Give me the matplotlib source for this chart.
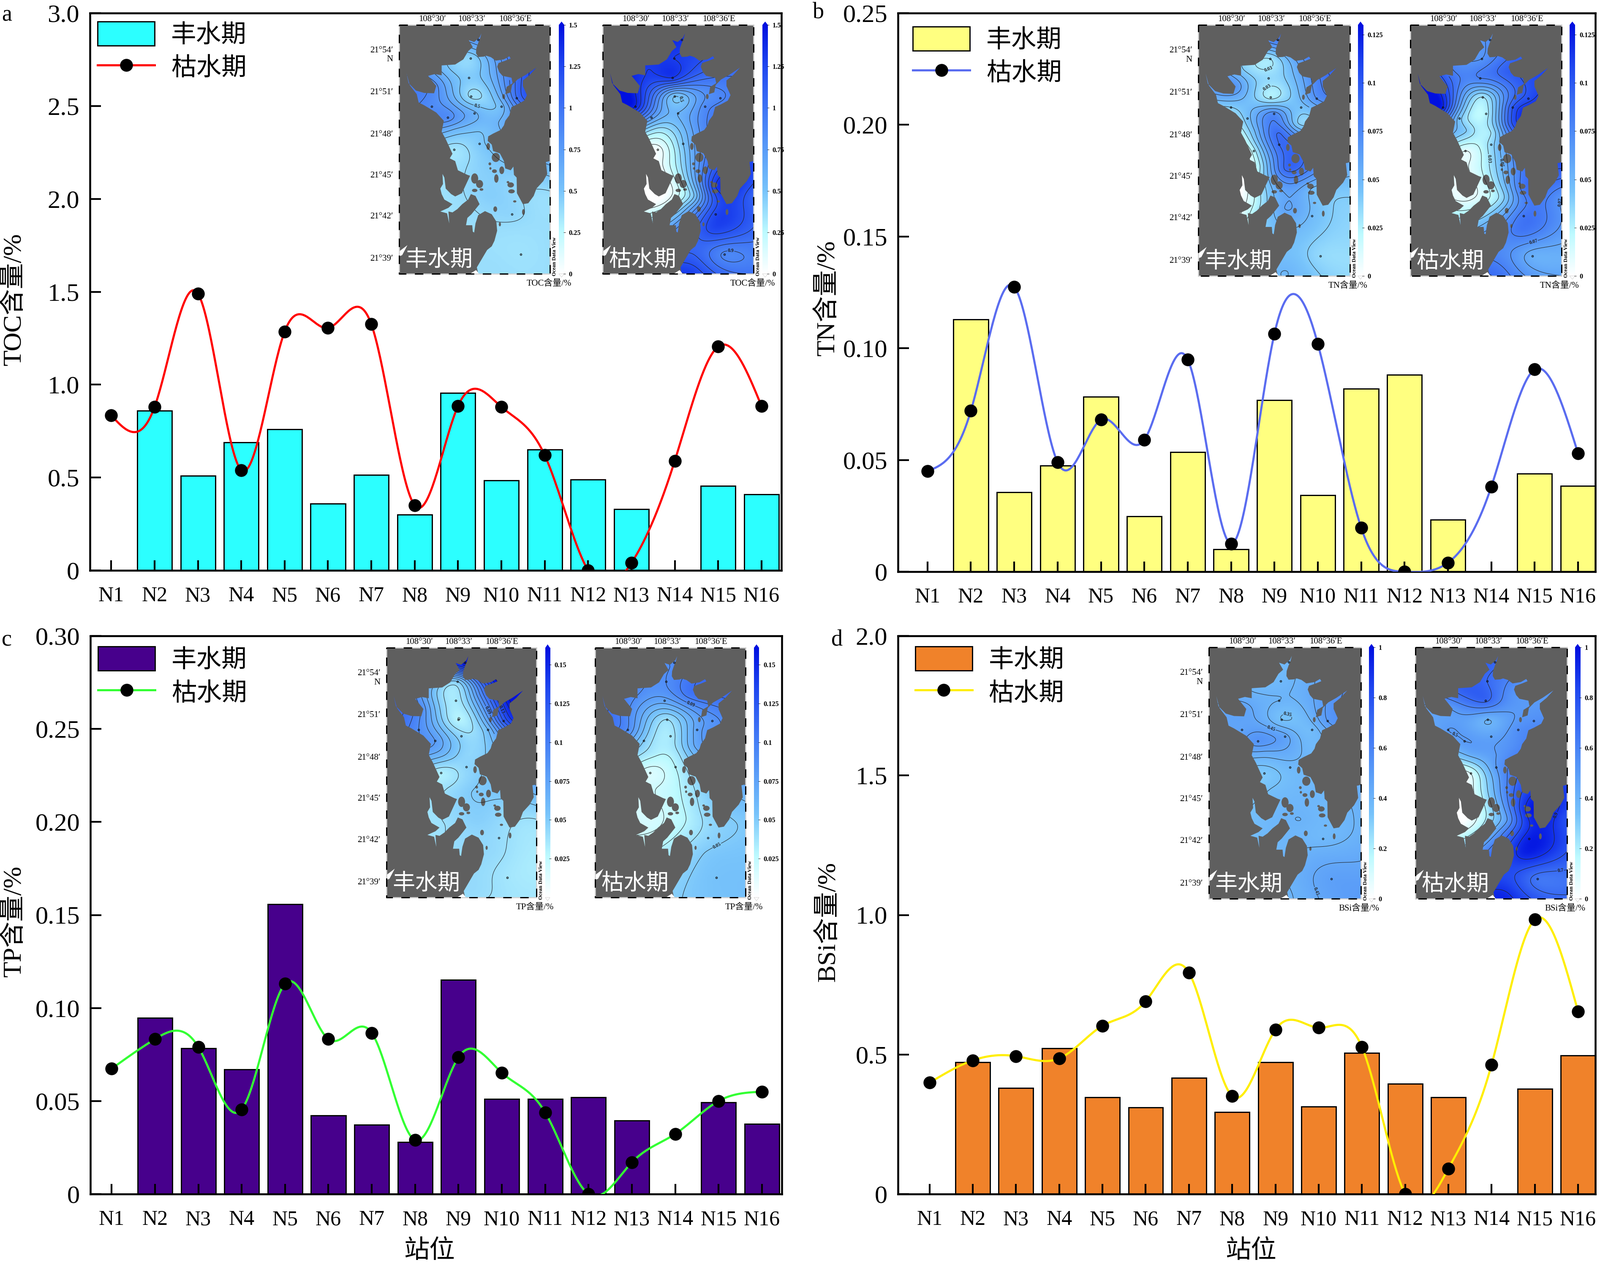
import numpy as np
import matplotlib
matplotlib.use("Agg")
from matplotlib import pyplot as plt
from matplotlib.colors import LinearSegmentedColormap
from matplotlib.lines import Line2D
from matplotlib.patches import Ellipse, Patch, Polygon

plt.rcParams["font.family"] = ["Liberation Serif", "Noto Sans CJK SC"]

FIG_W, FIG_H = 3788, 3001

stations = ["N%d" % i for i in range(1, 17)]

# nan = no sample in that period
toc_wet = [np.nan, 0.86, 0.51, 0.69, 0.76, 0.36, 0.515, 0.30, 0.955, 0.485, 0.65, 0.49, 0.33, np.nan, 0.455, 0.41]
toc_dry = [0.835, 0.88, 1.49, 0.54, 1.285, 1.305, 1.325, 0.35, 0.885, 0.88, 0.62, 0.0, 0.04, 0.59, 1.205, 0.885]
tn_wet = [np.nan, 0.1129, 0.0356, 0.0475, 0.0782, 0.0247, 0.0535, 0.010, 0.0768, 0.0343, 0.0818, 0.0882, 0.0233, np.nan, 0.0439, 0.0384]
tn_dry = [0.045, 0.072, 0.1275, 0.049, 0.068, 0.059, 0.095, 0.0125, 0.1065, 0.102, 0.0197, 0.0, 0.004, 0.038, 0.0905, 0.053]
tp_wet = [np.nan, 0.0948, 0.0784, 0.0669, 0.1557, 0.0422, 0.0373, 0.028, 0.1151, 0.051, 0.051, 0.052, 0.0395, np.nan, 0.0493, 0.0378]
tp_dry = [0.0674, 0.0833, 0.079, 0.0455, 0.113, 0.0833, 0.0866, 0.029, 0.0735, 0.0652, 0.0439, 0.0, 0.017, 0.0323, 0.05, 0.055]
bsi_wet = [np.nan, 0.472, 0.38, 0.523, 0.347, 0.311, 0.417, 0.293, 0.472, 0.314, 0.505, 0.395, 0.347, np.nan, 0.377, 0.497]
bsi_dry = [0.399, 0.479, 0.494, 0.486, 0.603, 0.691, 0.793, 0.351, 0.589, 0.596, 0.527, 0.0, 0.091, 0.464, 0.984, 0.654]

# bay outline, digitised in pixels of the first map
coast_x = [437, 432, 425, 418, 417, 425, 445, 455, 472, 490, 520, 540, 545, 525, 500, 495, 503, 515, 548, 552, 530, 525,
           545, 550, 570, 600, 640, 615, 590, 590, 605, 595, 570, 548, 540, 525, 520, 508, 480, 462, 460, 475, 480, 505,
           520, 525, 545, 555, 557, 567, 568, 590, 610, 630, 640, 665, 680, 675, 690, 690, 425, 420, 440, 458, 475, 485,
           495, 492, 475, 450, 425, 415, 410, 405, 403, 380, 385, 400, 430, 415, 398, 388, 366, 348, 330, 315, 318,
           310, 285, 315, 330, 300, 290, 285, 295, 293, 300, 305, 325, 340, 365, 395, 385, 350, 340, 320, 330, 305, 290, 298,
           270, 225, 205, 198, 172, 160, 168, 195, 225, 262, 270, 240, 265, 290, 290, 340, 370, 388, 405, 390, 410, 430]
coast_y = [113, 140, 165, 195, 222, 242, 240, 235, 243, 262, 255, 238, 250, 262, 275, 295, 325, 345, 355, 385, 405, 445,
           435, 395, 365, 340, 300, 340, 370, 400, 450, 480, 500, 515, 560, 590, 615, 640, 660, 675, 700, 720, 755, 768,
           810, 850, 860, 840, 885, 900, 985, 1045, 1040, 1000, 960, 920, 880, 815, 810, 1425, 1425, 1390, 1340, 1295, 1275, 1245,
           1190, 1140, 1100, 1083, 1105, 1150, 1200, 1195, 1160, 1160, 1120, 1100, 1045, 1000, 990, 1020, 1045, 1072, 1090, 1085, 1150,
           1095, 1085, 1065, 1045, 1020, 990, 960, 935, 880, 900, 960, 990, 1003, 985, 890, 885, 860, 810, 795, 770, 690, 650, 590,
           545, 505, 490, 445, 395, 330, 385, 425, 438, 440, 400, 345, 335, 342, 288, 283, 255, 210, 188, 150, 160, 135]
island_x = [462, 490, 468, 512, 485, 492, 412, 430, 412, 437, 545, 548, 592, 560, 488, 505, 519, 470, 535]
island_y = [730, 790, 825, 860, 865, 905, 905, 935, 970, 965, 940, 975, 1088, 1030, 1072, 1155, 458, 850, 925]
island_w = [13, 30, 10, 18, 18, 16, 26, 26, 20, 14, 24, 24, 10, 12, 14, 8, 10, 8, 10]
island_h = [38, 50, 16, 42, 20, 46, 56, 44, 18, 14, 28, 22, 32, 12, 30, 22, 28, 14, 12]
site_x = [425, 396, 390, 399, 510, 567, 253, 313, 411, 430, 336, 550, 582]
site_y = [148, 250, 355, 457, 513, 465, 512, 573, 548, 715, 748, 1100, 1318]

spot_x = [410, 396, 300, 390, 480, 260, 399, 567, 510, 253, 313, 411, 500, 340, 430,
          336, 430, 360, 450, 350, 470, 550, 550, 450, 690, 582, 690, 460, 690, 540]
spot_y = [170, 250, 310, 355, 320, 400, 457, 465, 513, 512, 573, 548, 600, 640, 650,
          748, 715, 830, 850, 1030, 1000, 950, 1100, 1060, 1000, 1318, 1250, 1400, 1425, 1180]

toc_map_wet = [.7, .42, .55, .47, .65, .85, .38, 1.0, .55, .85, .85, .62, .6, .58, .5,
               .35, .48, .38, .45, .38, .45, .42, .42, .42, .38, .36, .38, .38, .38, .38]
toc_map_dry = [1.35, 1.3, 1.3, 1.3, 1.15, 1.35, .5, .88, .85, 1.4, .75, .6, .85, .35, .55,
               .05, .5, .12, .55, .05, .5, 1.3, 1.25, .6, 1.1, .88, 1.0, 1.25, 1.0, 1.25]
tn_map_wet = [.07, .03, .04, .035, .05, .07, .026, .07, .045, .04, .045, .075, .04, .05, .09,
              .025, .09, .03, .09, .025, .06, .05, .048, .06, .04, .035, .035, .05, .035, .045]
tn_map_dry = [.07, .07, .078, .08, .095, .105, .03, .105, .1, .12, .045, .025, .095, .04, .03,
              .01, .035, .012, .04, .012, .035, .085, .085, .04, .07, .055, .06, .085, .06, .085]
tp_map_wet = [.14, .05, .06, .035, .09, .09, .03, .12, .06, .09, .08, .045, .05, .065, .045,
              .033, .045, .04, .05, .04, .048, .046, .042, .045, .04, .037, .034, .042, .036, .042]
tp_map_dry = [.09, .09, .09, .075, .105, .09, .04, .085, .075, .09, .05, .035, .07, .035, .035,
              .015, .03, .02, .03, .018, .03, .045, .045, .03, .052, .055, .055, .05, .056, .05]
bsi_map_wet = [.38, .38, .4, .4, .42, .47, .35, .5, .37, .47, .53, .47, .38, .43, .42,
               .32, .38, .35, .38, .38, .4, .38, .38, .39, .41, .48, .46, .41, .5, .42]
bsi_map_dry = [.72, .7, .72, .72, .55, .5, .4, .55, .55, .5, .5, .47, .56, .45, .5,
               .1, .5, .15, .52, .12, .5, .95, .95, .55, .8, .66, .72, .92, .72, .95]

odv = LinearSegmentedColormap.from_list("odv", ["#ffffff", "#bdfaff", "#78c4fb", "#5a9cf8", "#3f74f5", "#2048f0", "#0010e0"])

fig = plt.figure(figsize=(FIG_W / 300, FIG_H / 300), dpi=300)


def px_axes(x0, y0, x1, y1):
    return fig.add_axes([x0 / FIG_W, 1 - y1 / FIG_H, (x1 - x0) / FIG_W, (y1 - y0) / FIG_H])


def px_text(x, y, s, **kw):
    kw.setdefault("ha", "center")
    kw.setdefault("va", "center")
    return fig.text(x / FIG_W, 1 - y / FIG_H, s, **kw)


def spline(x, y, n=40):
    # natural cubic spline through the measured points
    x = np.asarray(x, float)
    y = np.asarray(y, float)
    h = np.diff(x)
    A = np.zeros((len(x), len(x)))
    b = np.zeros(len(x))
    A[0, 0] = A[-1, -1] = 1
    for i in range(1, len(x) - 1):
        A[i, i - 1:i + 2] = h[i - 1], 2 * (h[i - 1] + h[i]), h[i]
        b[i] = 6 * ((y[i + 1] - y[i]) / h[i] - (y[i] - y[i - 1]) / h[i - 1])
    m = np.linalg.solve(A, b)
    xs, ys = [], []
    for i in range(len(x) - 1):
        t = np.linspace(0, 1, n)
        xs.append(x[i] + t * h[i])
        ys.append((1 - t) * y[i] + t * y[i + 1] + h[i] ** 2 / 6 * (((1 - t) ** 3 - (1 - t)) * m[i] + (t ** 3 - t) * m[i + 1]))
    return np.concatenate(xs), np.concatenate(ys)


def thin_plate(px, py, z, qx, qy):
    def kernel(r2):
        return 0.5 * r2 * np.log(r2 + 1e-12)
    n = len(px)
    r2 = (px[:, None] - px[None, :]) ** 2 + (py[:, None] - py[None, :]) ** 2
    P = np.column_stack([np.ones(n), px, py])
    M = np.zeros((n + 3, n + 3))
    M[:n, :n] = kernel(r2) + 1e-4 * np.eye(n)
    M[:n, n:] = P
    M[n:, :n] = P.T
    w = np.linalg.solve(M, np.concatenate([z, np.zeros(3)]))
    d2 = (qx[..., None] - px) ** 2 + (qy[..., None] - py) ** 2
    return kernel(d2) @ w[:n] + w[n] + w[n + 1] * qx + w[n + 2] * qy


def norm_u(x):
    return (np.asarray(x, float) - 133) / 557


def norm_v(y):
    return (np.asarray(y, float) - 67) / 1358


def draw_map(box, values, vmax, step, title, left_labels):
    ax = px_axes(*box)
    ax.set_xlim(0, 1)
    ax.set_ylim(1, 0)
    ax.set_xticks([])
    ax.set_yticks([])
    ax.set_facecolor("#5f5f5f")
    for s in ax.spines.values():
        s.set_color("#d0d0d0")
        s.set_linewidth(0.6)

    gu, gv = np.meshgrid(np.linspace(0, 1, 140), np.linspace(0, 1, 280))
    field = thin_plate(norm_u(spot_x), norm_v(spot_y) * 2.4, np.array(values), gu, gv * 2.4)
    field = np.clip(field, 0, vmax)

    water = Polygon(np.column_stack([norm_u(coast_x), norm_v(coast_y)]), fc="none", ec="none")
    ax.add_patch(water)
    im = ax.imshow(field, extent=(0, 1, 1, 0), cmap=odv, vmin=0, vmax=vmax, aspect="auto", interpolation="bilinear")
    im.set_clip_path(water)
    levels = np.arange(step, vmax, step)
    cs = ax.contour(gu, gv, field, levels=levels, colors="#222222", linewidths=0.25)
    cs.set_clip_path(water)
    outline = water.get_path()
    for t in ax.clabel(cs, levels[::2], fmt="%g", fontsize=2.8, inline_spacing=1):
        t.set_fontweight("bold")
        if not outline.contains_point(t.get_position(), water.get_patch_transform()):
            t.set_visible(False)

    for x, y, w, h in zip(island_x, island_y, island_w, island_h):
        ax.add_patch(Ellipse((norm_u(x), norm_v(y)), w / 557, h / 1358, fc="#5f5f5f", ec="none"))
    ax.plot(norm_u(site_x), norm_v(site_y), ls="", marker=".", ms=0.6, color="#111111")
    ax.add_patch(Polygon([(0.47, 1), (0.53, 1), (0.51, 0.985)], fc="white", ec="none"))
    ax.add_patch(Polygon([(0, 0.91), (0.055, 0.885), (0.02, 0.925), (0, 0.93)], fc="white", ec="none"))

    dash = (0, (6.7, 6.7))
    ax.plot([0, 1, 1, 0, 0], [0, 0, 1, 1, 0], color="black", lw=0.72, ls=dash, dash_capstyle="butt", clip_on=False, zorder=6)
    ax.text(0.04, 0.945, title, color="white", fontsize=12.8, ha="left", va="center", zorder=7)
    for u, lab in zip([0.22, 0.48, 0.77], ["108°30′", "108°33′", "108°36′E"]):
        ax.text(u, -0.006, lab, fontsize=5, ha="center", va="bottom")
    if left_labels:
        for v, lab in zip([0.102, 0.27, 0.44, 0.605, 0.77, 0.94], ["21°54′", "21°51′", "21°48′", "21°45′", "21°42′", "21°39′"]):
            ax.text(-0.04, v, lab, fontsize=5, ha="right", va="center")
        ax.text(-0.04, 0.139, "N", fontsize=5, ha="right", va="center")
    ax.text(1.03, 0.93, "Ocean Data View", fontsize=3, fontweight="bold", rotation=90, ha="center", va="center")


def draw_cbar(box, vmax, ticks, labels, unit):
    cax = px_axes(*box)
    cax.imshow(np.linspace(1, 0, 256)[:, None], cmap=odv, vmin=0, vmax=1, extent=(0, 1, 0, vmax), aspect="auto")
    cax.set_xticks([])
    cax.set_ylim(0, vmax)
    cax.yaxis.tick_right()
    cax.set_yticks(ticks)
    cax.set_yticklabels(labels, fontsize=3.9, fontweight="bold")
    cax.tick_params(axis="y", direction="inout", length=1.2, width=0.2, pad=2)
    for s in cax.spines.values():
        s.set_visible(False)
    height = box[3] - box[1]
    cax.add_patch(Polygon([(0, 1), (0.5, 1 + 8 / height), (1, 1)], transform=cax.transAxes, clip_on=False, fc="#0010e0", ec="none"))
    cax.add_patch(Polygon([(0, 0), (0.5, -8 / height), (1, 0)], transform=cax.transAxes, clip_on=False, fc="white", ec="#cccccc", lw=0.2))
    px_text((box[0] + box[2]) / 2 - 30, box[3] + 23, unit, fontsize=5, ha="center")


def draw_panel(box, wet, dry, bar_color, line_color, ymax, yticks, yticklabels, xlim, legend_at):
    ax = px_axes(*box)
    x = np.arange(len(stations))
    bars = ax.bar(x, np.nan_to_num(wet), width=0.8, color=bar_color, edgecolor="black", linewidth=0.7)
    for b, v in zip(bars, wet):
        b.set_visible(not np.isnan(v))
    sx, sy = spline(x, dry)
    ax.plot(sx, sy, color=line_color, lw=1.2, zorder=3)
    ax.plot(x, dry, ls="", marker="o", ms=6.3, color="black", zorder=4)
    ax.set_xlim(*xlim)
    ax.set_ylim(0, ymax)
    ax.set_xticks(x)
    ax.set_xticklabels(stations, fontsize=12)
    ax.set_yticks(yticks)
    ax.set_yticklabels(yticklabels, fontsize=14.5)
    ax.tick_params(axis="x", direction="in", length=5.8, width=1, pad=9)
    ax.tick_params(axis="y", direction="in", length=6.2, width=1, pad=6)
    for s in ax.spines.values():
        s.set_linewidth(1.1)
    handles = [Patch(fc=bar_color, ec="black", lw=0.7),
               Line2D([], [], color=line_color, lw=1.2, marker="o", ms=6.3, mfc="black", mec="black")]
    ax.legend(handles, ["丰水期", "枯水期"], loc="upper left", bbox_to_anchor=legend_at, frameon=False, fontsize=14.3,
              handlelength=2.27, handleheight=1.1, handletextpad=0.65, labelspacing=0.28, borderpad=0, borderaxespad=0)
    return ax


# panel a
draw_panel((213, 31, 1850, 1350), toc_wet, toc_dry, "#2cffff", "#ff0000", 3.0, [0, 0.5, 1, 1.5, 2, 2.5, 3],
           ["0", "0.5", "1.0", "1.5", "2.0", "2.5", "3.0"], (-0.49, 15.46), (0.011, 0.985))
draw_map((945, 59, 1302, 648), toc_map_wet, 1.5, 0.1, "丰水期", True)
draw_map((1427, 59, 1784, 648), toc_map_dry, 1.5, 0.1, "枯水期", False)
toc_ticks, toc_labels = [0, .25, .5, .75, 1, 1.25, 1.5], ["0", "0.25", "0.5", "0.75", "1", "1.25", "1.5"]
draw_cbar((1323, 59, 1336, 648), 1.5, toc_ticks, toc_labels, "TOC含量/%")
draw_cbar((1805, 59, 1818, 648), 1.5, toc_ticks, toc_labels, "TOC含量/%")

# panel b
draw_panel((2126, 31, 3777, 1353), tn_wet, tn_dry, "#ffff80", "#5a6cf0", 0.25, [0, .05, .1, .15, .2, .25],
           ["0", "0.05", "0.10", "0.15", "0.20", "0.25"], (-0.68, 15.4), (0.0213, 0.976))
draw_map((2837, 59, 3196, 653), tn_map_wet, 0.130, 0.01, "丰水期", True)
draw_map((3339, 59, 3697, 653), tn_map_dry, 0.130, 0.01, "枯水期", False)
tn_ticks, tn_labels = [0, .025, .05, .075, .1, .125], ["0", "0.025", "0.05", "0.075", "0.1", "0.125"]
draw_cbar((3215, 59, 3227, 653), 0.130, tn_ticks, tn_labels, "TN含量/%")
draw_cbar((3716, 59, 3729, 653), 0.130, tn_ticks, tn_labels, "TN含量/%")

# panel c
draw_panel((214, 1505, 1851, 2826), tp_wet, tp_dry, "#47008c", "#33ff33", 0.30, [0, .05, .1, .15, .2, .25, .3],
           ["0", "0.05", "0.10", "0.15", "0.20", "0.25", "0.30"], (-0.49, 15.46), (0.011, 0.981))
draw_map((915, 1533, 1270, 2124), tp_map_wet, 0.161, 0.01, "丰水期", True)
draw_map((1409, 1533, 1765, 2124), tp_map_dry, 0.161, 0.01, "枯水期", False)
tp_ticks, tp_labels = [.025, .05, .075, .1, .125, .15], ["0.025", "0.05", "0.075", "0.1", "0.125", "0.15"]
draw_cbar((1291, 1533, 1302, 2124), 0.161, tp_ticks, tp_labels, "TP含量/%")
draw_cbar((1785, 1533, 1797, 2124), 0.161, tp_ticks, tp_labels, "TP含量/%")

# panel d
draw_panel((2126, 1505, 3777, 2826), bsi_wet, bsi_dry, "#f0822a", "#ffee00", 2.0, [0, .5, 1, 1.5, 2],
           ["0", "0.5", "1.0", "1.5", "2.0"], (-0.73, 15.4), (0.0247, 0.981))
draw_map((2862, 1532, 3222, 2127), bsi_map_wet, 1.0, 0.05, "丰水期", True)
draw_map((3351, 1532, 3710, 2127), bsi_map_dry, 1.0, 0.1, "枯水期", False)
bsi_ticks, bsi_labels = [0, .2, .4, .6, .8, 1], ["0", "0.2", "0.4", "0.6", "0.8", "1"]
draw_cbar((3241, 1532, 3253, 2127), 1.0, bsi_ticks, bsi_labels, "BSi含量/%")
draw_cbar((3729, 1532, 3741, 2127), 1.0, bsi_ticks, bsi_labels, "BSi含量/%")

px_text(33, 708, "TOC含量/%", fontsize=14.8, rotation=90)
px_text(1959, 705, "TN含量/%", fontsize=14.8, rotation=90)
px_text(33, 2180, "TP含量/%", fontsize=14.8, rotation=90)
px_text(1961, 2182, "BSi含量/%", fontsize=14.8, rotation=90)
px_text(1017, 2962, "站位", fontsize=14.5)
px_text(2962, 2962, "站位", fontsize=14.5)
px_text(16, 36, "a", fontsize=13)
px_text(1938, 30, "b", fontsize=13)
px_text(16, 1515, "c", fontsize=13)
px_text(1982, 1515, "d", fontsize=13)

fig.savefig("out.png", dpi=300)
